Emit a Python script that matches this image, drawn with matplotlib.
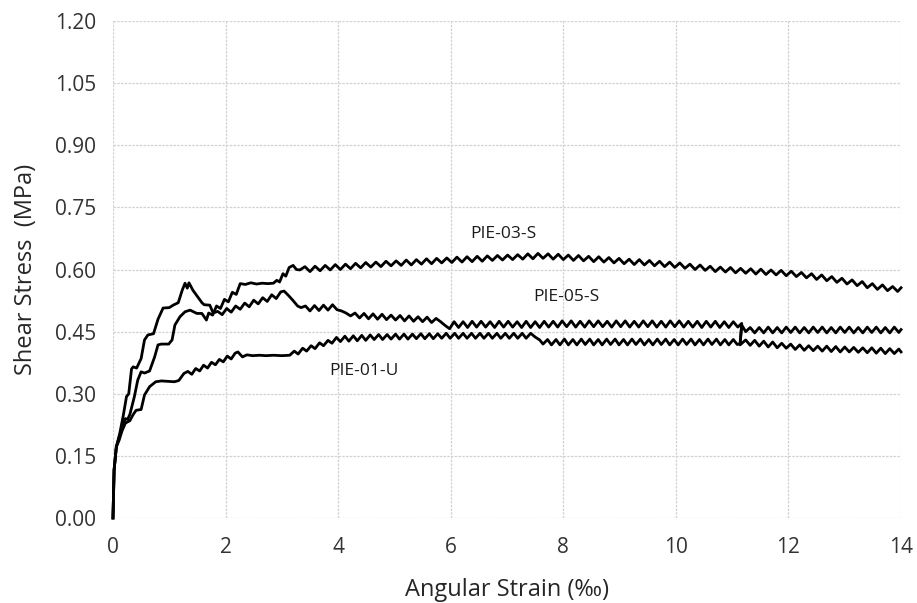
import matplotlib
matplotlib.use("Agg")
import matplotlib.pyplot as plt

plt.rcParams["font.family"] = ["Open Sans", "DejaVu Sans"]

# (angular strain [permil], shear stress [MPa])
pie03 = [
    (0, 0), (0.01, 0.06), (0.02, 0.116), (0.06, 0.172), (0.12, 0.200), (0.18, 0.225),
    (0.22, 0.240), (0.26, 0.238), (0.30, 0.250), (0.38, 0.293), (0.44, 0.333), (0.50, 0.353),
    (0.56, 0.350), (0.65, 0.355), (0.74, 0.389), (0.80, 0.418), (0.86, 0.420), (0.99, 0.420),
    (1.05, 0.430), (1.10, 0.466), (1.19, 0.486), (1.28, 0.498), (1.37, 0.502), (1.49, 0.494),
    (1.58, 0.494), (1.66, 0.478),
    (1.70, 0.495), (1.77, 0.490), (1.84, 0.512), (1.91, 0.506), (1.98, 0.528), (2.05, 0.522),
    (2.12, 0.545), (2.19, 0.540), (2.26, 0.566),
    (2.35, 0.564), (2.45, 0.568), (2.55, 0.565), (2.65, 0.567), (2.75, 0.566), (2.85, 0.567),
    (2.91, 0.574), (2.96, 0.570), (3.02, 0.590), (3.07, 0.584), (3.13, 0.605), (3.20, 0.610),
    (3.26, 0.600), (3.32, 0.599),
    (3.41, 0.607), (3.50, 0.595), (3.59, 0.608), (3.68, 0.597), (3.77, 0.610), (3.86, 0.599),
    (3.95, 0.612), (4.04, 0.600), (4.13, 0.613), (4.22, 0.602), (4.31, 0.615), (4.40, 0.604),
    (4.49, 0.617), (4.58, 0.606), (4.67, 0.618), (4.76, 0.607), (4.85, 0.620), (4.94, 0.609),
    (5.03, 0.621), (5.12, 0.610), (5.21, 0.623), (5.30, 0.611), (5.39, 0.624), (5.48, 0.613),
    (5.57, 0.626), (5.66, 0.614), (5.75, 0.627), (5.84, 0.616), (5.93, 0.628), (6.02, 0.617),
    (6.11, 0.630), (6.20, 0.618), (6.29, 0.631), (6.38, 0.619), (6.47, 0.632), (6.56, 0.620),
    (6.65, 0.633), (6.74, 0.622), (6.83, 0.634), (6.92, 0.623), (7.01, 0.635), (7.10, 0.624),
    (7.19, 0.636), (7.28, 0.625), (7.37, 0.638), (7.46, 0.626), (7.55, 0.639), (7.64, 0.627),
    (7.73, 0.638), (7.82, 0.625), (7.91, 0.637), (8.00, 0.624), (8.09, 0.635), (8.18, 0.622),
    (8.27, 0.634), (8.36, 0.621), (8.45, 0.632), (8.54, 0.619), (8.63, 0.631), (8.72, 0.618),
    (8.81, 0.629), (8.90, 0.616), (8.99, 0.627), (9.08, 0.614), (9.17, 0.625), (9.26, 0.612),
    (9.35, 0.624), (9.44, 0.611), (9.53, 0.622), (9.62, 0.609), (9.71, 0.620), (9.80, 0.607),
    (9.89, 0.618), (9.98, 0.605), (10.07, 0.616), (10.16, 0.603), (10.25, 0.613), (10.34, 0.600),
    (10.43, 0.611), (10.52, 0.598), (10.61, 0.608), (10.70, 0.595), (10.79, 0.606), (10.88, 0.594),
    (10.97, 0.605), (11.06, 0.592), (11.15, 0.603), (11.24, 0.591), (11.33, 0.602), (11.42, 0.589),
    (11.51, 0.601), (11.60, 0.588), (11.69, 0.599), (11.78, 0.587), (11.87, 0.598), (11.96, 0.585),
    (12.05, 0.596), (12.14, 0.583), (12.23, 0.593), (12.32, 0.580), (12.41, 0.590), (12.50, 0.576),
    (12.59, 0.587), (12.68, 0.573), (12.77, 0.583), (12.86, 0.569), (12.95, 0.579), (13.04, 0.565),
    (13.13, 0.575), (13.22, 0.561), (13.31, 0.571), (13.40, 0.556), (13.49, 0.566), (13.58, 0.552),
    (13.67, 0.563), (13.76, 0.549), (13.85, 0.559), (13.94, 0.547), (14.00, 0.556),
]

pie05 = [
    (0, 0), (0.01, 0.06), (0.02, 0.116), (0.06, 0.172), (0.12, 0.204), (0.18, 0.245),
    (0.24, 0.293), (0.28, 0.300), (0.33, 0.360), (0.36, 0.365), (0.42, 0.362), (0.50, 0.385),
    (0.56, 0.430), (0.62, 0.442), (0.72, 0.445), (0.80, 0.480), (0.89, 0.507), (1.00, 0.508),
    (1.07, 0.514), (1.16, 0.520), (1.23, 0.550), (1.28, 0.567), (1.32, 0.555), (1.35, 0.568),
    (1.42, 0.550), (1.50, 0.535), (1.58, 0.520), (1.62, 0.515), (1.72, 0.514), (1.78, 0.495),
    (1.86, 0.499), (1.94, 0.491), (2.02, 0.506), (2.10, 0.497), (2.18, 0.512), (2.26, 0.504),
    (2.34, 0.519), (2.42, 0.510), (2.50, 0.526), (2.58, 0.517), (2.66, 0.532), (2.74, 0.523),
    (2.82, 0.539), (2.90, 0.530), (2.98, 0.546), (3.04, 0.548),
    (3.12, 0.537), (3.20, 0.525), (3.28, 0.512), (3.34, 0.508),
    (3.42, 0.512), (3.50, 0.500), (3.58, 0.513), (3.66, 0.501), (3.74, 0.514), (3.82, 0.502),
    (3.90, 0.515), (3.98, 0.503), (4.06, 0.500), (4.14, 0.495), (4.22, 0.488),
    (4.30, 0.495), (4.38, 0.483), (4.46, 0.494), (4.54, 0.481), (4.62, 0.493), (4.70, 0.480),
    (4.78, 0.492), (4.86, 0.479), (4.94, 0.490), (5.02, 0.478), (5.10, 0.489), (5.18, 0.476),
    (5.26, 0.488), (5.34, 0.475), (5.42, 0.486), (5.50, 0.474), (5.58, 0.485), (5.66, 0.472),
    (5.74, 0.482), (5.82, 0.474), (5.90, 0.465), (5.98, 0.457),
    (6.06, 0.474), (6.14, 0.460), (6.22, 0.474), (6.30, 0.460), (6.38, 0.475), (6.46, 0.461),
    (6.54, 0.475), (6.62, 0.461), (6.70, 0.474), (6.78, 0.460), (6.86, 0.475), (6.94, 0.461),
    (7.02, 0.475), (7.10, 0.461), (7.18, 0.474), (7.26, 0.460), (7.34, 0.475), (7.42, 0.460),
    (7.50, 0.474), (7.58, 0.460), (7.66, 0.475), (7.74, 0.461), (7.82, 0.475), (7.90, 0.461),
    (7.98, 0.476), (8.06, 0.462), (8.14, 0.476), (8.22, 0.461), (8.30, 0.475), (8.38, 0.461),
    (8.46, 0.476), (8.54, 0.462), (8.62, 0.476), (8.70, 0.462), (8.78, 0.475), (8.86, 0.461),
    (8.94, 0.476), (9.02, 0.462), (9.10, 0.476), (9.18, 0.461), (9.26, 0.475), (9.34, 0.461),
    (9.42, 0.476), (9.50, 0.462), (9.58, 0.476), (9.66, 0.461), (9.74, 0.475), (9.82, 0.461),
    (9.90, 0.476), (9.98, 0.462), (10.06, 0.476), (10.14, 0.461), (10.22, 0.475), (10.30, 0.461),
    (10.38, 0.475), (10.46, 0.460), (10.54, 0.475), (10.62, 0.461), (10.70, 0.475), (10.78, 0.460),
    (10.86, 0.474), (10.94, 0.460), (11.02, 0.474), (11.10, 0.461), (11.17, 0.470), (11.14, 0.418),
    (11.24, 0.430), (11.32, 0.417), (11.40, 0.429), (11.48, 0.415), (11.56, 0.427), (11.64, 0.413),
    (11.72, 0.425), (11.80, 0.411), (11.88, 0.422), (11.96, 0.410), (12.04, 0.420), (12.12, 0.407),
    (12.20, 0.418), (12.28, 0.405), (12.36, 0.416), (12.44, 0.404), (12.52, 0.415), (12.60, 0.403),
    (12.68, 0.415), (12.76, 0.402), (12.84, 0.414), (12.92, 0.401), (13.00, 0.413), (13.08, 0.401),
    (13.16, 0.412), (13.24, 0.400), (13.32, 0.411), (13.40, 0.399), (13.48, 0.411), (13.56, 0.398),
    (13.64, 0.410), (13.72, 0.397), (13.80, 0.409), (13.88, 0.397), (13.96, 0.408), (14.00, 0.401),
]

pie01 = [
    (0, 0), (0.01, 0.06), (0.02, 0.116), (0.06, 0.172), (0.11, 0.188), (0.16, 0.210),
    (0.22, 0.229), (0.30, 0.235), (0.36, 0.250), (0.41, 0.260), (0.50, 0.262), (0.56, 0.297),
    (0.65, 0.317), (0.76, 0.329), (0.86, 0.331), (1.09, 0.329), (1.17, 0.332), (1.26, 0.349),
    (1.33, 0.354), (1.40, 0.347), (1.47, 0.361), (1.54, 0.355), (1.61, 0.369), (1.68, 0.362),
    (1.75, 0.376), (1.82, 0.370), (1.89, 0.383), (1.96, 0.377), (2.03, 0.391), (2.10, 0.384),
    (2.17, 0.398), (2.22, 0.401),
    (2.30, 0.389), (2.38, 0.394), (2.48, 0.392), (2.60, 0.393), (2.72, 0.392), (2.85, 0.393),
    (3.00, 0.392), (3.14, 0.393),
    (3.22, 0.403), (3.29, 0.396), (3.37, 0.410), (3.44, 0.403), (3.52, 0.416), (3.59, 0.409),
    (3.67, 0.423), (3.74, 0.416), (3.82, 0.429), (3.89, 0.422), (3.97, 0.436), (4.04, 0.426),
    (4.12, 0.439), (4.19, 0.427), (4.27, 0.440), (4.34, 0.428), (4.42, 0.441), (4.49, 0.429),
    (4.57, 0.442), (4.64, 0.431), (4.72, 0.443), (4.79, 0.431), (4.87, 0.443), (4.94, 0.432),
    (5.02, 0.444), (5.09, 0.432), (5.17, 0.444), (5.24, 0.432), (5.32, 0.444), (5.39, 0.433),
    (5.47, 0.445), (5.54, 0.433), (5.62, 0.445), (5.69, 0.433), (5.77, 0.445), (5.84, 0.434),
    (5.92, 0.446), (5.99, 0.434), (6.07, 0.446), (6.14, 0.434), (6.22, 0.446), (6.29, 0.434),
    (6.37, 0.446), (6.44, 0.434), (6.52, 0.446), (6.59, 0.434), (6.67, 0.446), (6.74, 0.434),
    (6.82, 0.446), (6.89, 0.434), (6.97, 0.446), (7.04, 0.434), (7.12, 0.446), (7.19, 0.434),
    (7.27, 0.446), (7.34, 0.434), (7.42, 0.446),
    (7.50, 0.437), (7.58, 0.430), (7.64, 0.420),
    (7.72, 0.431), (7.79, 0.418), (7.87, 0.431), (7.94, 0.418), (8.02, 0.432), (8.09, 0.418),
    (8.17, 0.431), (8.24, 0.418), (8.32, 0.432), (8.39, 0.419), (8.47, 0.432), (8.54, 0.418),
    (8.62, 0.431), (8.69, 0.418), (8.77, 0.432), (8.84, 0.419), (8.92, 0.432), (8.99, 0.418),
    (9.07, 0.431), (9.14, 0.418), (9.22, 0.432), (9.29, 0.419), (9.37, 0.432), (9.44, 0.418),
    (9.52, 0.431), (9.59, 0.418), (9.67, 0.432), (9.74, 0.419), (9.82, 0.432), (9.89, 0.418),
    (9.97, 0.431), (10.04, 0.418), (10.12, 0.432), (10.19, 0.419), (10.27, 0.432), (10.34, 0.418),
    (10.42, 0.431), (10.49, 0.418), (10.57, 0.432), (10.64, 0.419), (10.72, 0.432), (10.79, 0.418),
    (10.87, 0.431), (10.94, 0.418), (11.02, 0.431), (11.09, 0.419), (11.14, 0.421), (11.17, 0.466),
    (11.24, 0.450), (11.32, 0.460), (11.40, 0.447), (11.48, 0.460), (11.56, 0.447), (11.64, 0.461),
    (11.72, 0.447), (11.80, 0.460), (11.88, 0.447), (11.96, 0.461), (12.04, 0.448), (12.12, 0.461),
    (12.20, 0.447), (12.28, 0.460), (12.36, 0.447), (12.44, 0.461), (12.52, 0.448), (12.60, 0.461),
    (12.68, 0.447), (12.76, 0.460), (12.84, 0.447), (12.92, 0.461), (13.00, 0.448), (13.08, 0.461),
    (13.16, 0.447), (13.24, 0.460), (13.32, 0.447), (13.40, 0.461), (13.48, 0.448), (13.56, 0.461),
    (13.64, 0.447), (13.72, 0.460), (13.80, 0.447), (13.88, 0.461), (13.96, 0.448), (14.00, 0.455),
]

curves = [("PIE-03-S", pie03, (6.93, 0.686)),
          ("PIE-05-S", pie05, (8.05, 0.534)),
          ("PIE-01-U", pie01, (4.46, 0.355))]

x_ticks = [0, 2, 4, 6, 8, 10, 12, 14]
y_ticks = [0.00, 0.15, 0.30, 0.45, 0.60, 0.75, 0.90, 1.05, 1.20]

fig = plt.figure(figsize=(9.17, 6.03), dpi=100)
ax = fig.add_axes([0.1232, 0.141, 0.8594, 0.824])

for name, pts, (tx, ty) in curves:
    xs, ys = zip(*pts)
    ax.plot(xs, ys, color="black", lw=2.0, clip_on=False, zorder=3)
    ax.text(tx, ty, name, ha="center", va="center", fontsize=12.5, color="#1a1a1a")

ax.set_xlim(0, 14)
ax.set_ylim(0, 1.20)
ax.set_xticks(x_ticks)
ax.set_yticks(y_ticks)
ax.set_yticklabels([f"{v:.2f}" for v in y_ticks])
ax.tick_params(length=0, labelsize=15, colors="#333333")
ax.tick_params(axis="y", pad=12)
ax.tick_params(axis="x", pad=14)
ax.grid(True, color="#d2d2d2", lw=0.9, ls=(0, (2, 1)))
ax.set_axisbelow(True)
for s in ax.spines.values():
    s.set_visible(False)

ax.set_xlabel("Angular Strain (‰)", fontsize=17, color="#262626", labelpad=14)
ax.set_ylabel("Shear Stress  (MPa)", fontsize=17, color="#262626", labelpad=12)

fig.savefig("out.png", dpi=100)
